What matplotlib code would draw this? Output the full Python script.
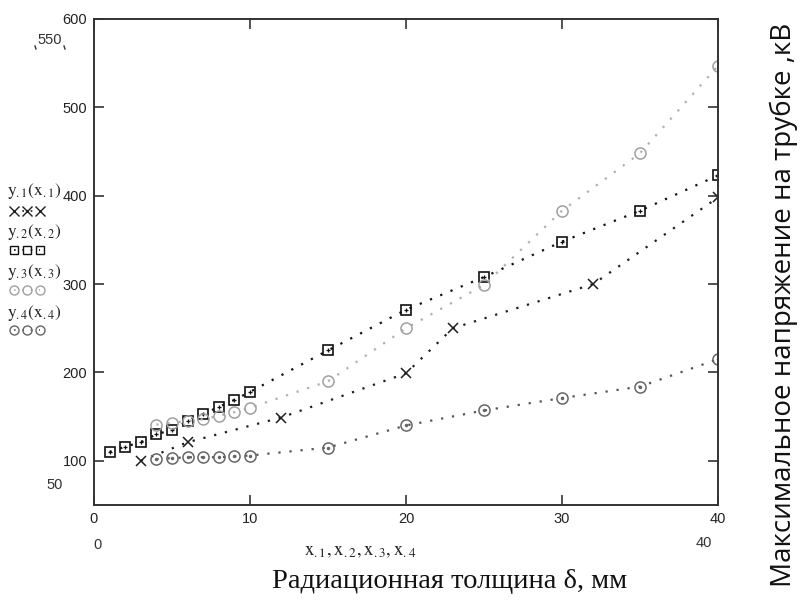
import matplotlib
matplotlib.use("Agg")
import matplotlib.pyplot as plt
from matplotlib.lines import Line2D

plt.rcParams['mathtext.fontset'] = 'stix'

# данные
x1 = [3, 6, 12, 20, 23, 32, 40]
y1 = [100, 121, 149, 199, 250, 300, 398]

x2 = [1, 2, 3, 4, 5, 6, 7, 8, 9, 10, 15, 20, 25, 30, 35, 40]
y2 = [110, 116, 121, 130, 135, 145, 153, 161, 169, 178, 225, 271, 308, 348, 383, 423]

x3 = [4, 5, 6, 7, 8, 9, 10, 15, 20, 25, 30, 35, 40]
y3 = [141, 143, 145, 147, 151, 155, 160, 190, 250, 299, 383, 448, 547]

x4 = [4, 5, 6, 7, 8, 9, 10, 15, 20, 25, 30, 35, 40]
y4 = [102, 103, 104, 104, 104, 105, 106, 115, 140, 157, 171, 184, 215]

xticks = [0, 10, 20, 30, 40]
yticks = [100, 200, 300, 400, 500, 600]

W, H = 808, 600
def fx(px):
    return px / W
def fy(py):
    return 1 - py / H

fig = plt.figure(figsize=(8.08, 6.0), dpi=100)
ax = fig.add_axes([fx(94), fy(505), fx(718) - fx(94), fy(19) - fy(505)])

dots = (0, (1, 4))
c1, c2, c3, c4 = '#1e1e1e', '#111111', '#a0a0a0', '#666666'

ax.plot(x1, y1, color=c1, lw=1.6, ls=dots, marker='x', ms=7.5, mew=1.1)
ax.plot(x2, y2, color=c2, lw=1.6, ls=dots, marker='s', ms=7.5, mfc='none', mew=1.2)
ax.plot(x2, y2, ls='none', marker='+', ms=3.5, color=c2, mew=0.9)
ax.plot(x3, y3, color='#b0b0b0', lw=1.6, ls=dots, marker='o', ms=8, mfc='none', mec=c3, mew=1.1)
ax.plot(x4, y4, color='#555555', lw=1.6, ls=dots, marker='o', ms=8, mfc='none', mec=c4, mew=1.1)
ax.plot(x4, y4, ls='none', marker='.', ms=3, color=c4)

ax.set_xlim(0, 40)
ax.set_ylim(50, 600)
ax.set_xticks(xticks)
ax.set_yticks(yticks)
ax.tick_params(direction='in', length=7, width=1.2, color='#333333',
               top=True, right=True, labelsize=10.5, labelcolor='#222222', pad=5)
for lab in ax.get_xticklabels() + ax.get_yticklabels():
    lab.set_family('Liberation Sans')
for s in ax.spines.values():
    s.set_color('#333333')
    s.set_linewidth(1.4)

# подписи пределов осей (как в Mathcad)
lim_kw = dict(fontsize=10.5, color='#333333', family='Liberation Sans', ha='center', va='center')
fig.text(fx(97), fy(545), '0', **lim_kw)
fig.text(fx(704), fy(543), '40', **lim_kw)
fig.text(fx(55), fy(485), '50', **lim_kw)
fig.text(fx(50), fy(40), '550', **lim_kw)
fig.add_artist(Line2D([fx(35), fx(36)], [fy(46), fy(49)], color='#333333', lw=1))
fig.add_artist(Line2D([fx(64), fx(65)], [fy(46), fy(49)], color='#333333', lw=1))

fig.text(fx(360), fy(550), r'$\mathrm{x}_{.1}\mathrm{,x}_{.2}\mathrm{,x}_{.3}\mathrm{,x}_{.4}$',
         fontsize=13.5, color='#222222', ha='center', va='center')

# легенда слева
leg = [
    (r'$\mathrm{y}_{.1}(\mathrm{x}_{.1})$', 191, 211, 'x', c1, c1),
    (r'$\mathrm{y}_{.2}(\mathrm{x}_{.2})$', 232, 250, 's', c2, c2),
    (r'$\mathrm{y}_{.3}(\mathrm{x}_{.3})$', 272, 290, 'o', c3, '#b0b0b0'),
    (r'$\mathrm{y}_{.4}(\mathrm{x}_{.4})$', 313, 330, 'o', c4, '#555555'),
]
for txt, ty, my, m, mc, lc in leg:
    fig.text(fx(7), fy(ty), txt, fontsize=12.5, color='#222222', ha='left', va='center')
    ms = 6 if m == 's' else 6.5
    fig.add_artist(Line2D([fx(14), fx(27), fx(40)], [fy(my)] * 3, color=lc, lw=1.2, ls=dots,
                          marker=m, ms=ms, mfc='none', mec=mc, mew=1))

fig.text(fx(450), fy(582), 'Радиационная толщина δ, мм', fontsize=20.5,
         family='Liberation Serif', color='#111111', ha='center', va='center')
fig.text(fx(784), fy(305), 'Максимальное напряжение на трубке ,кВ', fontsize=20,
         family='Open Sans', color='#111111', rotation=90, ha='center', va='center')

fig.savefig('out.png', dpi=100)
